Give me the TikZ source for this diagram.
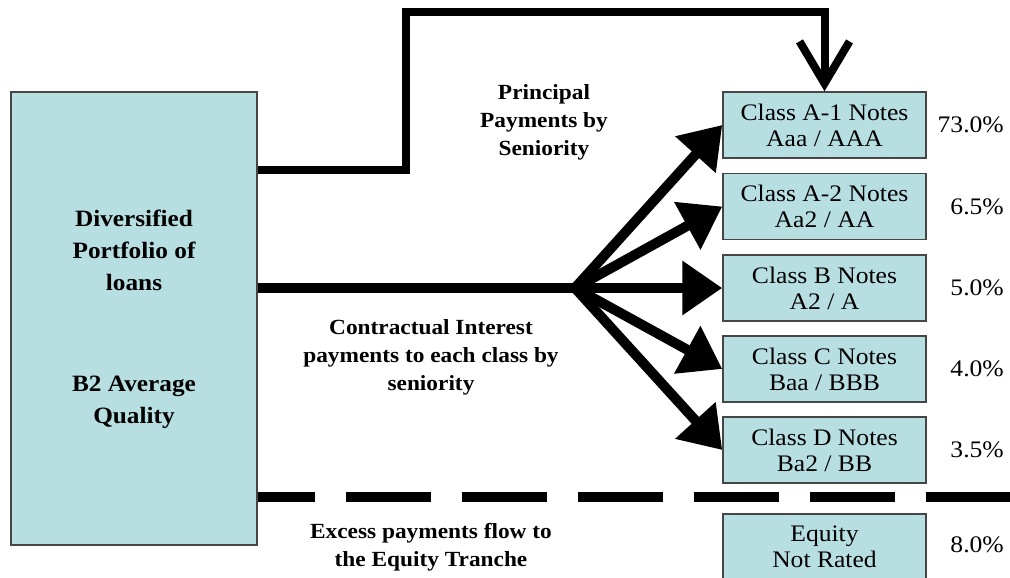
\documentclass[tikz,border=0pt]{standalone}
\usepackage{fontspec}
\setmainfont{Liberation Serif}[FakeStretch=1.08]
\usetikzlibrary{arrows.meta}
\definecolor{boxfill}{RGB}{183,222,225}
\definecolor{boxline}{RGB}{70,70,70}
\begin{document}
\begin{tikzpicture}[x=1pt,y=-1pt,
  note/.style={draw=boxline, line width=1.5pt, fill=boxfill, minimum width=203pt, minimum height=66pt, inner sep=0pt, align=center, font=\fontsize{23.7}{26}\selectfont},
  pct/.style={anchor=east, inner sep=0pt, font=\fontsize{23.7}{26}\selectfont},
  lbl/.style={align=center, inner sep=0pt, font=\bfseries\fontsize{21.6}{28}\selectfont},
  porttext/.style={align=center, inner sep=0pt, font=\bfseries\fontsize{23.4}{32}\selectfont},
  flow/.style={line width=10pt},
  fanarrow/.style={line width=10pt, -{Triangle[length=40pt,width=52pt]}}
]
\useasboundingbox (0,0) rectangle (1010,578);

% left box
\node[draw=boxline, line width=1.5pt, fill=boxfill, minimum width=246pt, minimum height=453pt, inner sep=0pt] (port) at (134,318.5) {};
\node[porttext] (ptop) at (134,250) {Diversified\\Portfolio of\\loans};
\node[porttext] (pbot) at (134,402.5) {B2 Average\\Quality};

% tranche boxes
\node[note] (A1) at (824.5,125) {Class A-1 Notes\\Aaa / AAA};
\node[note] (A2) at (824.5,206.5) {Class A-2 Notes\\Aa2 / AA};
\node[note] (B)  at (824.5,288) {Class B Notes\\A2 / A};
\node[note] (C)  at (824.5,369) {Class C Notes\\Baa / BBB};
\node[note] (D)  at (824.5,450) {Class D Notes\\Ba2 / BB};
\node[note] (E)  at (824.5,547) {Equity\\Not Rated};

% percentages
\node[pct] (pA1) at (1004,125) {73.0\%};
\node[pct] (pA2) at (1004,206.5) {6.5\%};
\node[pct] (pB)  at (1004,288) {5.0\%};
\node[pct] (pC)  at (1004,369) {4.0\%};
\node[pct] (pD)  at (1004,450) {3.5\%};
\node[pct] (pE)  at (1004,545) {8.0\%};

% labels
\node[lbl] (lprin) at (544,122) {Principal\\Payments by\\Seniority};
\node[lbl] (lint) at (431,357.5) {Contractual Interest\\payments to each class by\\seniority};
\node[lbl] (lexc) at (431,547.5) {Excess payments flow to\\the Equity Tranche};

% principal path
\coordinate (pj) at (406,170);
\coordinate (tp) at (406,12);
\draw[line width=8pt, -{Straight Barb[length=42pt,width=50pt,line width=8pt]}]
  (pj -| port.east) -- (pj) -- (tp) -| (A1.north);

% interest fan
\coordinate (fan) at (575,288);
\draw[flow] (fan -| port.east) -- (fan);
\draw[fanarrow] (fan) -- (A1.west);
\draw[fanarrow] (fan) -- (A2.west);
\draw[fanarrow] (fan) -- (B.west);
\draw[fanarrow] (fan) -- (C.west);
\draw[fanarrow] (fan) -- (D.west);

% dashed excess line
\coordinate (dend) at (1010,497);
\draw[line width=10pt, dash pattern=on 85pt off 31pt, dash phase=28pt] (port.east |- dend) -- (dend);
\end{tikzpicture}
\end{document}
